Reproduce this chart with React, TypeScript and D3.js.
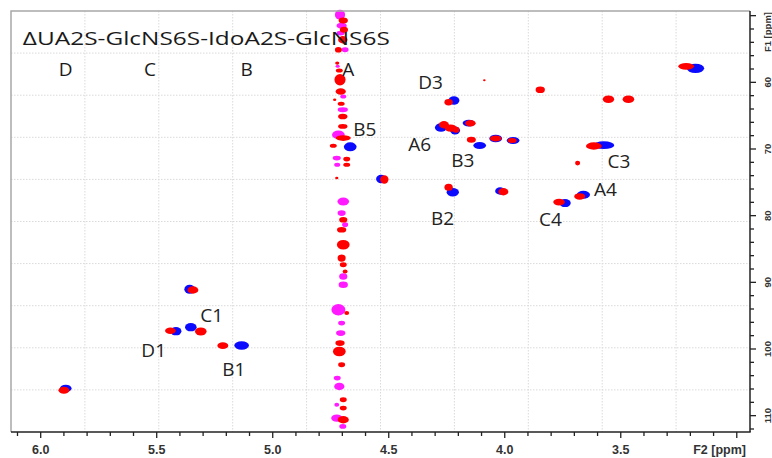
import React from "react";
import * as d3 from "d3";

// HSQC overlay: blue = reference, red = sample, magenta/red streak = t1 noise at ~4.7 ppm
// peaks: [F2 ppm, F1 ppm, width F2 (ppm), width F1 (ppm)]
const bluePeaks: number[][] = [
  [4.219, 62.73, 0.047, 1.25],
  [4.275, 66.77, 0.052, 1.3],
  [4.214, 67.22, 0.043, 1.2],
  [4.155, 66.11, 0.053, 1.0],
  [4.108, 69.48, 0.055, 1.05],
  [4.039, 68.42, 0.055, 1.15],
  [3.964, 68.72, 0.055, 1.05],
  [4.533, 74.5, 0.043, 1.25],
  [4.666, 69.68, 0.055, 1.35],
  [4.224, 76.49, 0.053, 1.25],
  [4.02, 76.3, 0.043, 1.1],
  [3.74, 78.11, 0.049, 1.2],
  [3.661, 76.86, 0.057, 1.2],
  [3.573, 69.43, 0.09, 1.15],
  [3.178, 57.9, 0.075, 1.4],
  [5.358, 91.03, 0.046, 1.35],
  [5.417, 97.33, 0.047, 1.25],
  [5.353, 96.73, 0.05, 1.25],
  [5.134, 99.48, 0.063, 1.25],
  [5.892, 105.9, 0.05, 1.1],
];

const redPeaks: number[][] = [
  [4.242, 62.99, 0.036, 0.95],
  [4.262, 66.36, 0.043, 1.1],
  [4.233, 66.86, 0.052, 1.1],
  [4.21, 67.11, 0.03, 0.9],
  [4.148, 66.14, 0.045, 0.95],
  [4.144, 68.61, 0.039, 0.9],
  [4.039, 68.42, 0.05, 0.9],
  [3.968, 68.72, 0.039, 0.75],
  [4.519, 74.58, 0.036, 1.25],
  [4.242, 75.74, 0.036, 1.05],
  [4.006, 76.41, 0.043, 1.1],
  [3.766, 77.96, 0.05, 1.0],
  [3.677, 77.12, 0.047, 1.0],
  [3.616, 69.55, 0.068, 1.1],
  [3.553, 62.54, 0.049, 1.15],
  [3.467, 62.54, 0.05, 1.15],
  [3.686, 72.11, 0.022, 0.7],
  [3.218, 57.6, 0.068, 1.0],
  [3.847, 61.11, 0.04, 1.0],
  [4.088, 59.7, 0.011, 0.3],
  [5.344, 91.15, 0.047, 1.1],
  [5.441, 97.26, 0.046, 1.0],
  [5.31, 97.36, 0.05, 1.2],
  [5.215, 99.5, 0.047, 1.0],
  [5.9, 106.2, 0.047, 1.05],
];

// noise streak near water: [F2, F1, wF2, wF1]
const streakMagenta: number[][] = [
  [4.71, 49.86, 0.044, 1.5], [4.703, 51.51, 0.044, 0.9], [4.707, 52.61, 0.035, 0.72],
  [4.688, 55.11, 0.03, 0.72], [4.72, 57.6, 0.018, 0.45], [4.696, 62.12, 0.026, 0.6],
  [4.698, 64.11, 0.044, 0.72], [4.717, 67.86, 0.055, 1.3], [4.724, 71.36, 0.035, 0.72],
  [4.722, 72.36, 0.026, 0.6], [4.696, 77.87, 0.05, 1.2], [4.703, 79.61, 0.035, 0.85],
  [4.688, 81.36, 0.026, 0.72], [4.696, 89.12, 0.035, 0.95], [4.696, 90.36, 0.04, 0.95],
  [4.717, 94.11, 0.06, 1.7], [4.703, 96.11, 0.03, 0.72], [4.707, 97.61, 0.04, 0.85],
  [4.722, 104.36, 0.03, 0.72], [4.713, 105.62, 0.044, 1.1], [4.724, 108.36, 0.021, 0.6],
  [4.724, 110.36, 0.048, 1.1], [4.698, 111.62, 0.03, 0.72],
];

const streakRed: number[][] = [
  [4.696, 50.72, 0.04, 0.9], [4.693, 52.11, 0.035, 0.9], [4.698, 53.61, 0.04, 1.1],
  [4.717, 55.11, 0.03, 0.85], [4.722, 57.11, 0.018, 0.5], [4.713, 58.22, 0.03, 0.6],
  [4.71, 59.61, 0.048, 1.7], [4.707, 61.37, 0.044, 0.95], [4.733, 62.61, 0.014, 0.36],
  [4.705, 63.2, 0.03, 0.6], [4.698, 65.12, 0.04, 0.85], [4.698, 66.62, 0.04, 0.72],
  [4.696, 68.36, 0.065, 0.85], [4.739, 69.51, 0.03, 0.6], [4.681, 71.51, 0.03, 0.72],
  [4.681, 72.36, 0.03, 0.6], [4.724, 74.36, 0.014, 0.36], [4.696, 80.61, 0.035, 0.85],
  [4.703, 82.11, 0.04, 0.85], [4.696, 84.36, 0.055, 1.45], [4.703, 86.36, 0.035, 1.1],
  [4.696, 87.36, 0.03, 0.72], [4.688, 88.37, 0.021, 0.6], [4.681, 94.61, 0.021, 0.6],
  [4.71, 99.11, 0.04, 0.85], [4.713, 100.37, 0.055, 1.45], [4.703, 102.36, 0.03, 0.72],
  [4.696, 107.61, 0.03, 0.72], [4.696, 108.86, 0.03, 0.72], [4.696, 110.61, 0.048, 1.1],
];

const peakLabels = ["D3", "B5", "A6", "B3", "C3", "A4", "B2", "C4", "C1", "D1", "B1"];
const peakLabelF2 = [4.32, 4.603, 4.367, 4.181, 3.508, 3.566, 4.268, 3.803, 5.263, 5.513, 5.168];
const peakLabelF1 = [59.99, 66.99, 69.36, 71.73, 71.84, 75.99, 80.42, 80.61, 94.94, 100.2, 103.1];

const title = "ΔUA2S-GlcNS6S-IdoA2S-GlcNS6S";
const unitLetters = ["D", "C", "B", "A"];
const unitF2 = [5.892, 5.529, 5.112, 4.674];

const f2Ticks = d3.range(30, 62).map((v) => v / 10);
const f1Ticks = d3.range(50, 113, 2);

const W = 772, H = 458;
const L = 11, R = 750, T = 11, B = 432;

export default function App() {
  const x = d3.scaleLinear().domain([6.128, 2.943]).range([L, R]);
  const y = d3.scaleLinear().domain([49.3, 112.45]).range([T, B]);
  const kx = Math.abs(x(0) - x(1));
  const ky = Math.abs(y(1) - y(0));
  const axisFont = "'Liberation Sans Narrow', 'Arial Narrow', 'Liberation Sans', Arial, sans-serif";
  const labelFont = "'Open Sans', 'Noto Sans', sans-serif";

  const ell = (p: number[], color: string, i: number) => (
    <ellipse key={i} cx={x(p[0])} cy={y(p[1])} rx={(p[2] * kx) / 2} ry={(p[3] * ky) / 2} fill={color} />
  );

  const gx = d3.range(1, 10).map((i) => L + ((R - L) * i) / 10);
  const gy = d3.range(1, 10).map((i) => T + ((B - T) * i) / 10);

  return (
    <svg width={W} height={H} style={{ position: "absolute", left: 0, top: 0, background: "#fff" }}>
      <g stroke="#dadada" strokeWidth={1} strokeDasharray="1.5,1.5">
        {gx.map((v, i) => <line key={"gx" + i} x1={v} x2={v} y1={T} y2={B} />)}
        {gy.map((v, i) => <line key={"gy" + i} x1={L} x2={R} y1={v} y2={v} />)}
      </g>
      <g>
        {streakMagenta.map((p, i) => ell(p, "#ff1aff", i))}
        {streakRed.map((p, i) => ell(p, "#ff0000", i))}
        {bluePeaks.map((p, i) => ell(p, "#0a0aff", i))}
        {redPeaks.map((p, i) => ell(p, "#ff0000", i))}
      </g>
      {/* frame */}
      <path d={`M${L},${B} V${T} H${R}`} fill="none" stroke="#a8a8a8" strokeWidth={1.5} />
      <line x1={L} x2={R + 0.7} y1={B} y2={B} stroke="#222" strokeWidth={1.5} />
      <line x1={R} x2={R} y1={T} y2={B} stroke="#222" strokeWidth={1.5} />
      {/* F2 axis */}
      {f2Ticks.map((t) => {
        const major = Math.round(t * 10) % 5 === 0;
        return (
          <line key={"t2" + t} x1={x(t)} x2={x(t)} y1={B} y2={B + (major ? 6 : 4)} stroke="#222" strokeWidth={1.3} />
        );
      })}
      {f2Ticks
        .filter((t) => Math.round(t * 10) % 5 === 0 && t > 3.05)
        .map((t) => (
          <text key={"l2" + t} x={x(t)} y={454} textAnchor="middle" fontSize={12.5} fontWeight="bold" fontFamily={axisFont} fill="#333">
            {t.toFixed(1)}
          </text>
        ))}
      <text x={746} y={454} textAnchor="end" fontSize={12.5} fontWeight="bold" fontFamily={axisFont} fill="#333">
        F2 [ppm]
      </text>
      {/* F1 axis */}
      {f1Ticks.map((t) => {
        const major = t % 10 === 0;
        return (
          <line key={"t1" + t} x1={R} x2={R + (major ? 6 : 4)} y1={y(t)} y2={y(t)} stroke="#222" strokeWidth={1.3} />
        );
      })}
      {f1Ticks
        .filter((t) => t % 10 === 0 && t > 50)
        .map((t) => (
          <text key={"l1" + t} transform={`translate(771,${y(t)}) rotate(-90)`} textAnchor="middle" fontSize={9.5} fontWeight="bold" fontFamily={axisFont} fill="#333">
            {t}
          </text>
        ))}
      <text transform={`translate(771,12) rotate(-90)`} textAnchor="end" fontSize={9.5} fontWeight="bold" fontFamily={axisFont} fill="#333">
        F1 [ppm]
      </text>
      {/* annotations */}
      <text x={x(6.077)} y={y(54.47)} fontSize={19} fontFamily={labelFont} fill="#1a1a1a" textLength={367} lengthAdjust="spacingAndGlyphs">
        {title}
      </text>
      {unitLetters.map((s, i) => (
        <text key={s} x={x(unitF2[i])} y={y(59.01)} textAnchor="middle" fontSize={19} fontFamily={labelFont} fill="#1a1a1a">
          {s}
        </text>
      ))}
      {peakLabels.map((s, i) => (
        <text key={s} x={x(peakLabelF2[i])} y={y(peakLabelF1[i])} dy="0.35em" textAnchor="middle" fontSize={19} fontFamily={labelFont} fill="#222">
          {s}
        </text>
      ))}
    </svg>
  );
}
